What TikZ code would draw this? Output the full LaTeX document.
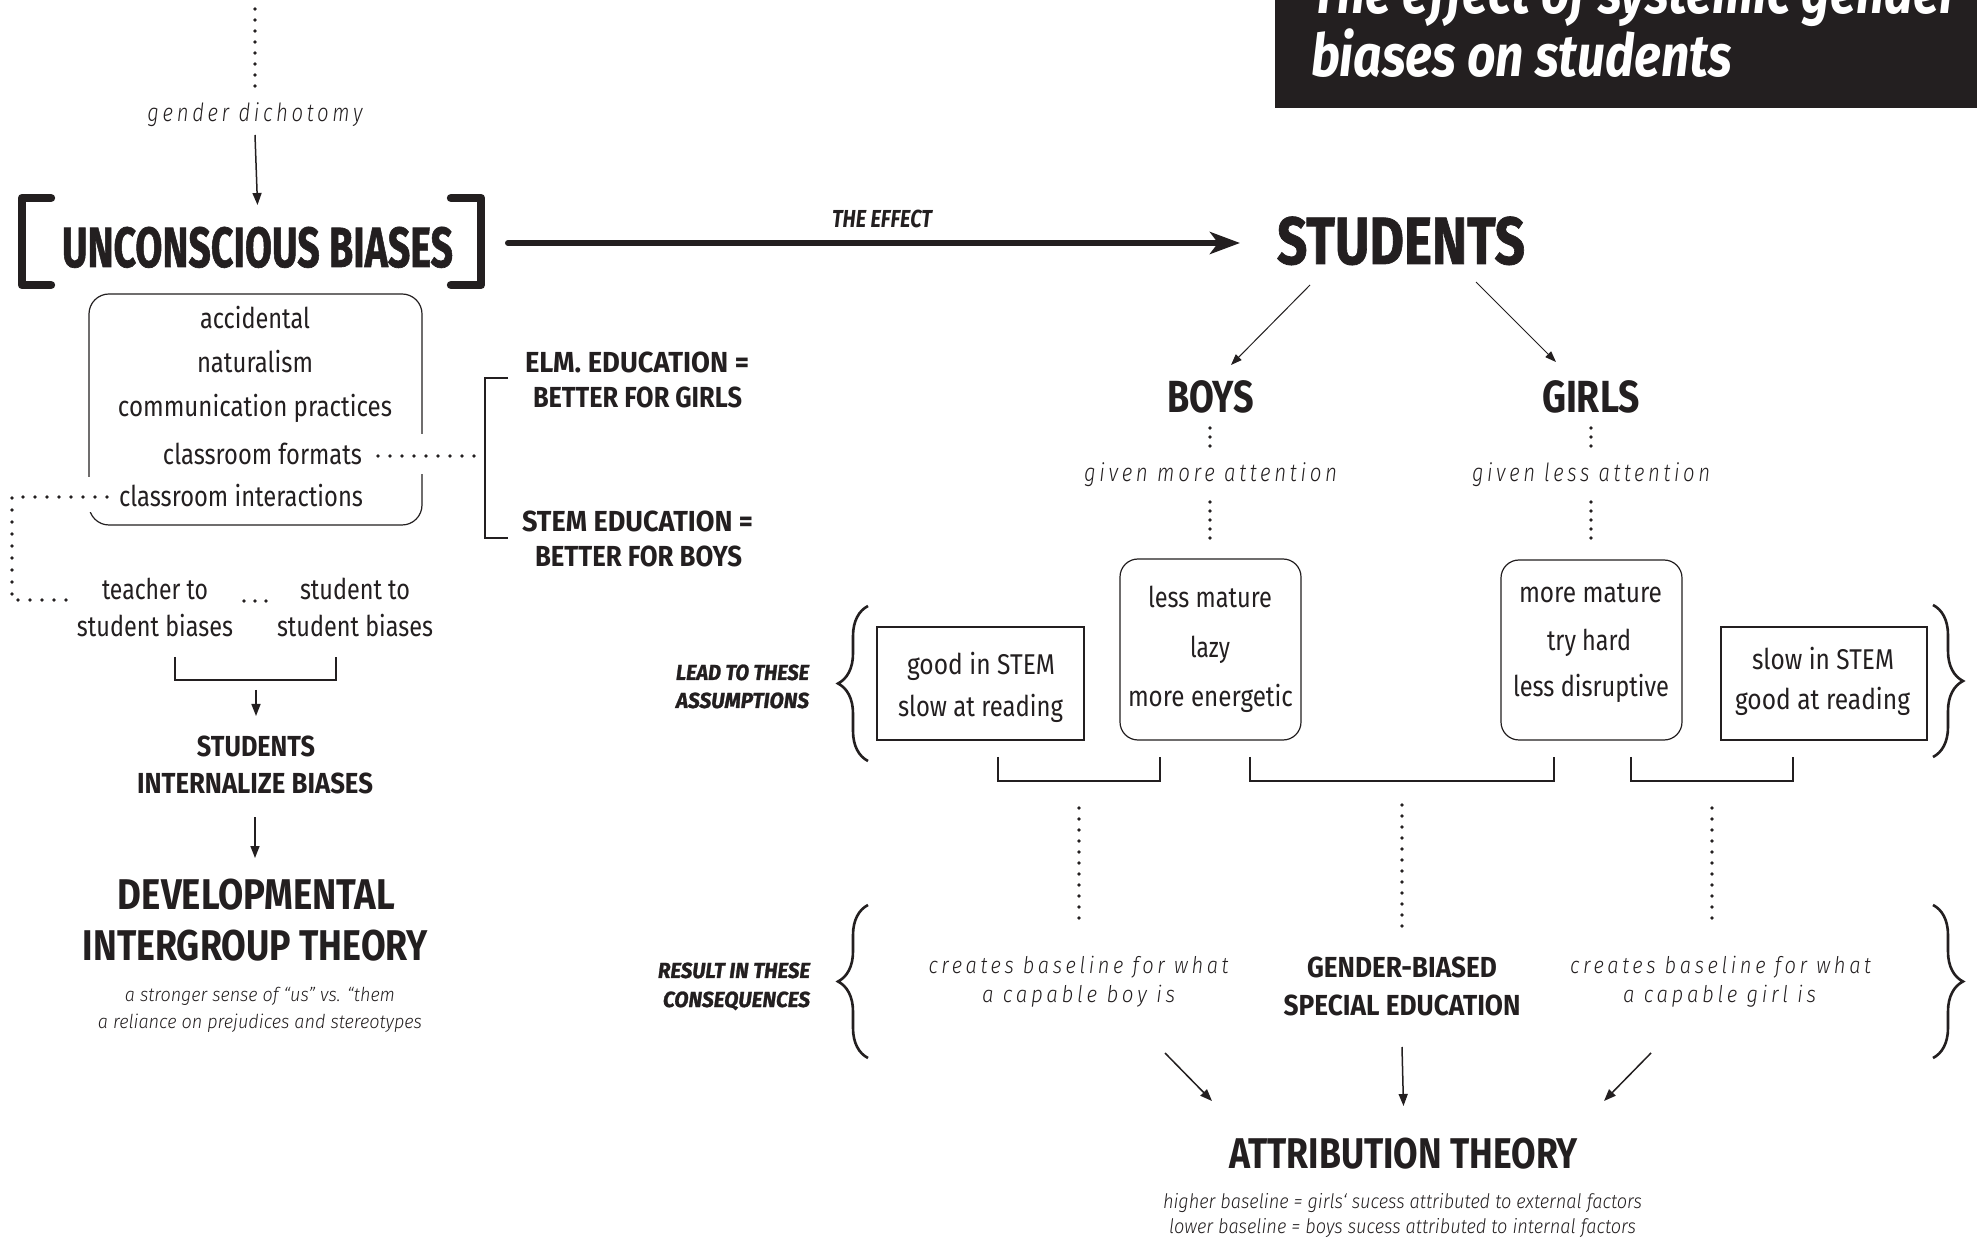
\documentclass[tikz,border=0pt]{standalone}
\usepackage{fontspec}
\usepackage{graphicx}
\usetikzlibrary{arrows.meta,decorations.pathreplacing}
\newfontfamily\fBody{Fira Sans}
\newfontfamily\fLt{Fira Sans Light}[ItalicFont={Fira Sans Light Italic}]
\newfontfamily\fSp{Fira Sans Light}[ItalicFont={Fira Sans Light Italic}, LetterSpace=18]
\newfontfamily\fXB{Fira Sans}[FakeBold=1.2]
\definecolor{ink}{HTML}{231F20}
\newlength\pxu \setlength\pxu{0.5pt}
\newcommand\fw[2]{\resizebox{#1\pxu}{\height}{#2}}
\tikzset{
  txt/.style={inner sep=0pt, outer sep=0pt, anchor=base, text=ink},
  body/.style={txt, font=\fBody\fontsize{14.3}{16}\selectfont},
  sp/.style={txt, font=\fSp\itshape\fontsize{12.5}{14}\selectfont},
  sptwo/.style={txt, font=\fSp\itshape\fontsize{11.5}{13}\selectfont},
  itl/.style={txt, font=\fLt\itshape\fontsize{9.6}{11}\selectfont},
  itltwo/.style={txt, font=\fLt\itshape\fontsize{10}{11}\selectfont},
  semi/.style={txt, font=\fBody\bfseries\fontsize{14.5}{16}\selectfont},
  hdm/.style={txt, font=\fBody\bfseries\fontsize{21.5}{24}\selectfont},
  hdbg/.style={txt, font=\fBody\bfseries\fontsize{22.5}{24}\selectfont},
  hdb/.style={txt, font=\fXB\bfseries\fontsize{28.3}{30}\selectfont},
  hdx/.style={txt, font=\fXB\bfseries\fontsize{33.4}{36}\selectfont},
  lbl/.style={txt, anchor=base east, font=\fXB\bfseries\itshape\fontsize{10.9}{12}\selectfont},
  ttl/.style={txt, anchor=base west, text=white, font=\fBody\bfseries\itshape\fontsize{29.5}{30}\selectfont},
  rbox/.style={draw=ink, line width=0.6pt, rounded corners=10pt, inner sep=0pt},
  rboxb/.style={draw=ink, line width=0.6pt, rounded corners=9pt, inner sep=0pt},
  sbox/.style={draw=ink, line width=0.6pt, inner sep=0pt},
  ln/.style={draw=ink, line width=1pt},
  bk/.style={draw=ink, line width=4.2pt, line cap=round, line join=round},
  arr/.style={draw=ink, line width=0.75pt, -{Triangle[length=6pt,width=4.5pt]}},
  arrs/.style={draw=ink, line width=0.5pt, -{Triangle[length=5.5pt,width=4pt]}},
  dotsA/.style={draw=ink, line width=1.9pt, line cap=round, dash pattern=on 0pt off 5.5pt},
  dotsB/.style={draw=ink, line width=1.8pt, line cap=round, dash pattern=on 0pt off 6pt},
  dotsS/.style={draw=ink, line width=1.8pt, line cap=round, dash pattern=on 0pt off 4.5pt},
  brc/.style={draw=ink, line width=1.3pt, decorate, decoration={brace, amplitude=15pt, aspect=0.5}},
}
\begin{document}
\begin{tikzpicture}[x=0.5pt,y=-0.5pt]
\fill[white] (0,0) rectangle (1977,1240);
\useasboundingbox (0,0) rectangle (1977,1240);

% ---------- title ----------
\fill[ink] (1275,0) rectangle (1977,108);
\node[ttl] (title1) at (1311,14) {\fw{648}{The effect of systemic gender}};
\node[ttl] (title2) at (1311,77) {\fw{421}{biases on students}};

% ---------- left column ----------
\coordinate (gtop) at (255,9);
\coordinate (gbot) at (255,87);
\draw[dotsA] (gtop) -- (gbot);
\node[sp] (gd) at (255,122) {\fw{215}{gender dichotomy}};
\node[hdb] (ub) at (257.5,267) {\fw{391}{UNCONSCIOUS BIASES}};
\draw[arr] (gd.south |- 0,135) -- (ub.north |- 0,205);
\draw[bk] (51,198) -- (22,198) -- (22,285) -- (51,285);
\draw[bk] (451,198) -- (481,198) -- (481,285) -- (451,285);

\node[rbox, minimum width=166.5pt, minimum height=115.5pt] (list) at (255.5,409.5) {};
\node[body] (l1) at (255,329) {\fw{110}{accidental}};
\node[body] (l2) at (255,373) {\fw{116}{naturalism}};
\node[body] (l3) at (255,417) {\fw{274}{communication practices}};
\node[body] (l4) at (262.5,465) {\fw{199}{classroom formats}};
\node[body] (l5) at (241,507) {\fw{244}{classroom interactions}};
\fill[white] (84,477) rectangle (96,512);
\fill[white] (416,434) rectangle (428,474);

\node[semi] (elm1) at (637,373) {\fw{224}{ELM. EDUCATION =}};
\node[semi] (elm2) at (637.5,408) {\fw{209}{BETTER FOR GIRLS}};
\node[semi] (stem1) at (637.5,532) {\fw{231}{STEM EDUCATION =}};
\node[semi] (stem2) at (638.5,567) {\fw{207}{BETTER FOR BOYS}};
\coordinate (elmA) at (508,378);
\coordinate (elmB) at (508,538);
\draw[ln] (elmA) -- (485,378) -- (485,538) -- (elmB);
\coordinate (fmS) at (378,456);
\coordinate (fmE) at (478,456);
\draw[dotsB] (fmS) -- (fmE);

\node[body] (t1) at (155,600) {\fw{106}{teacher to}};
\node[body] (t2) at (155,637) {\fw{156}{student biases}};
\node[body] (s1) at (355,600) {\fw{110}{student to}};
\node[body] (s2) at (355,637) {\fw{156}{student biases}};
\coordinate (ciS) at (107,497);
\coordinate (ciE) at (68,600);
\draw[dotsB] (ciS) -- (12,497) -- (12,600) -- (ciE);
\coordinate (ddA) at (244,601);
\coordinate (ddB) at (267,601);
\draw[dotsA] (ddA) -- (ddB);

\draw[ln] (175,657) -- (175,680) -- (336,680) -- (336,657);
\node[semi] (si1) at (256,756) {\fw{118}{STUDENTS}};
\node[semi] (si2) at (255,794) {\fw{236}{INTERNALIZE BIASES}};
\draw[arr] (si1.north |- 0,690) -- (si1.north |- 0,716);
\node[hdm] (dit1) at (256.5,909) {\fw{277}{DEVELOPMENTAL}};
\node[hdm] (dit2) at (255.5,960) {\fw{345}{INTERGROUP THEORY}};
\draw[arr] (si2.south |- 0,817) -- (si2.south |- 0,858);
\node[itl] (dd1) at (260,1001) {\fw{270}{a stronger sense of “us” vs. “them}};
\node[itl] (dd2) at (260,1028) {\fw{324}{a reliance on prejudices and stereotypes}};

% ---------- the effect ----------
\node[txt, font=\fBody\bfseries\itshape\fontsize{12.3}{14}\selectfont] (eff) at (882,228) {\fw{100}{THE EFFECT}};
\node[hdx] (stu) at (1401,264) {\fw{248}{STUDENTS}};
\coordinate (effS) at (508,243);
\coordinate (effE) at (1240,243);
\draw[draw=ink, line width=3pt, line cap=round, -{Stealth[length=15pt,width=11pt,inset=4pt]}] (effS) -- (effE);

\node[hdbg] (boys) at (1210.5,413) {\fw{87}{BOYS}};
\node[hdbg] (girls) at (1591,413) {\fw{98}{GIRLS}};
\coordinate (sbS) at (1310,285);
\coordinate (sbE) at (1231,365);
\coordinate (sgS) at (1476,282);
\coordinate (sgE) at (1556,362);
\draw[arrs] (sbS) -- (sbE);
\draw[arrs] (sgS) -- (sgE);

\node[sp] (gma) at (1210.5,482) {\fw{253}{given more attention}};
\node[sp] (gla) at (1591,482) {\fw{238}{given less attention}};
\draw[dotsS] (1210,428) -- (1210,453);
\draw[dotsS] (1210,502) -- (1210,543);
\draw[dotsS] (1591,428) -- (1591,453);
\draw[dotsS] (1591,502) -- (1591,543);

% boxes
\node[sbox, minimum width=103.5pt, minimum height=56.5pt] (bs) at (980.5,683.5) {};
\node[body] (bs1) at (981,675) {\fw{148}{good in STEM}};
\node[body] (bs2) at (980.5,717) {\fw{165}{slow at reading}};
\node[rboxb, minimum width=90.5pt, minimum height=90.5pt] (bb) at (1210.5,649.5) {};
\node[body] (bb1) at (1210,608) {\fw{124}{less mature}};
\node[body] (bb2) at (1210,658) {\fw{40}{lazy}};
\node[body] (bb3) at (1210.5,707) {\fw{165}{more energetic}};
\node[rboxb, minimum width=90.5pt, minimum height=90pt] (gb) at (1591.5,650) {};
\node[body] (gb1) at (1590.5,603) {\fw{143}{more mature}};
\node[body] (gb2) at (1589,651) {\fw{84}{try hard}};
\node[body] (gb3) at (1591,697) {\fw{156}{less disruptive}};
\node[sbox, minimum width=103pt, minimum height=56.5pt] (gs) at (1824,683.5) {};
\node[body] (gs1) at (1823,670) {\fw{142}{slow in STEM}};
\node[body] (gs2) at (1822.5,710) {\fw{175}{good at reading}};

\node[lbl] (lead1) at (809,680) {\fw{133}{LEAD TO THESE}};
\node[lbl] (lead2) at (809,708) {\fw{133}{ASSUMPTIONS}};
\draw[brc] (868,761) -- (868,606);
\draw[brc] (1933,605) -- (1933,757);

% brackets under boxes
\draw[ln] (998,757) -- (998,781) -- (1160,781) -- (1160,757);
\draw[ln] (1250,757) -- (1250,781) -- (1554,781) -- (1554,757);
\draw[ln] (1631,757) -- (1631,781) -- (1793,781) -- (1793,757);
\draw[dotsA] (1079,808) -- (1079,927);
\draw[dotsA] (1402,805) -- (1402,927);
\draw[dotsA] (1712,808) -- (1712,927);

% consequences
\node[lbl] (res1) at (810,978) {\fw{152}{RESULT IN THESE}};
\node[lbl] (res2) at (810,1007) {\fw{147}{CONSEQUENCES}};
\draw[brc] (868,1058) -- (868,905);
\draw[brc] (1933,905) -- (1933,1058);
\node[sptwo] (cb1) at (1078.5,973) {\fw{300}{creates baseline for what}};
\node[sptwo] (cb2) at (1078.5,1002) {\fw{193}{a capable boy is}};
\node[semi] (gbs1) at (1402,977) {\fw{190}{GENDER-BIASED}};
\node[semi] (gbs2) at (1402,1015) {\fw{237}{SPECIAL EDUCATION}};
\node[sptwo] (cg1) at (1720.5,973) {\fw{301}{creates baseline for what}};
\node[sptwo] (cg2) at (1719.5,1002) {\fw{193}{a capable girl is}};

\node[hdm] (att) at (1403.5,1168) {\fw{349}{ATTRIBUTION THEORY}};
\draw[arr] (1165,1053) -- (1212,1101);
\draw[arr] (gbs2.south |- 0,1047) -- (att.north |- 0,1106);
\draw[arr] (1651,1053) -- (1604,1101);
\node[itltwo] (at1) at (1402.5,1208) {\fw{479}{higher baseline = girls‘ sucess attributed to external factors}};
\node[itltwo] (at2) at (1402.5,1233) {\fw{467}{lower baseline = boys sucess attributed to internal factors}};
\end{tikzpicture}
\end{document}
